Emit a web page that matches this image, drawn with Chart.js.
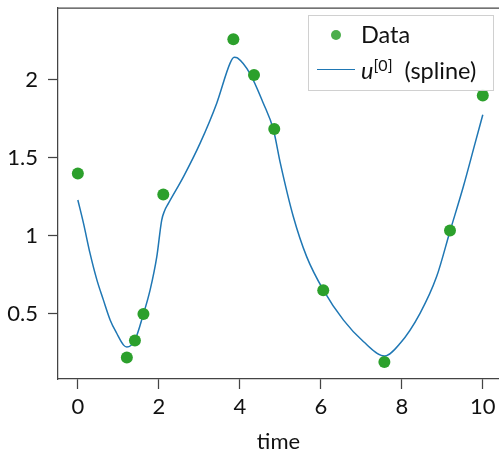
<!DOCTYPE html>
<html>
<head>
<meta charset="utf-8">
<script src="https://cdn.jsdelivr.net/npm/chart.js@4/dist/chart.umd.min.js"></script>
<style>
  body { margin: 0; background: #fff; }
  #wrap { position: relative; width: 499px; height: 450px; font-family: Lato, sans-serif; }
  #legend {
    position: absolute; left: 308px; top: 15px; width: 186px; height: 76px;
    border: 1px solid #d0d0d0; background: rgba(255,255,255,0.85); box-sizing: border-box;
    font-size: 23.5px; color: #111;
  }
  #legend .dot { position: absolute; left: 22px; top: 14px; width: 10px; height: 10px; border-radius: 50%; background: #2ca02c; opacity: 0.85; }
  #legend .ln { position: absolute; left: 8px; top: 53px; width: 38px; height: 0; border-top: 1.5px solid #1f77b4; }
  #legend .t1 { position: absolute; left: 52px; top: 4px; }
  #legend .t2 { position: absolute; left: 52px; top: 40px; white-space: nowrap; }
  #legend sup { font-size: 16px; vertical-align: 8px; line-height: 0; }
</style>
</head>
<body>
<div id="wrap">
  <canvas id="chart" width="499" height="450"></canvas>
  <div id="legend">
    <span class="dot"></span><span class="t1">Data</span>
    <span class="ln"></span><span class="t2"><i>u</i><sup>[0]</sup>&nbsp; (spline)</span>
  </div>
</div>
<script>
const dataT = [0, 1.21, 1.41, 1.62, 2.11, 3.84, 4.35, 4.85, 6.06, 7.57, 9.19, 10.0];
const dataU = [1.40, 0.22, 0.33, 0.50, 1.265, 2.26, 2.03, 1.685, 0.652, 0.192, 1.034, 1.90];

const splineT = [0, 0.14, 0.30, 0.47, 0.63, 0.80, 0.96, 1.13, 1.21, 1.41, 1.62, 1.785, 1.95, 2.07, 2.14, 2.24, 2.61, 3.02, 3.43, 3.76, 3.86, 3.94, 4.25, 4.58, 4.83, 5.0, 5.32, 5.65, 6.06, 6.56, 7.05, 7.57, 7.96, 8.45, 8.86, 9.19, 9.52, 9.81, 10.0];
const splineU = [1.23, 1.08, 0.889, 0.718, 0.59, 0.46, 0.376, 0.30, 0.288, 0.333, 0.50, 0.654, 0.867, 1.10, 1.16, 1.21, 1.38, 1.594, 1.85, 2.107, 2.145, 2.14, 2.04, 1.85, 1.68, 1.466, 1.124, 0.867, 0.654, 0.46, 0.323, 0.23, 0.312, 0.504, 0.739, 1.03, 1.316, 1.594, 1.776];

const xTicks = [0, 2, 4, 6, 8, 10];
const yTicks = [0.5, 1, 1.5, 2];

const axisColor = "#444";
const tickFont = { family: "Lato", size: 22 };

// top spine of the frame
const topSpine = {
  id: "topSpine",
  afterDraw(chart) {
    const { ctx, chartArea } = chart;
    ctx.save();
    ctx.strokeStyle = axisColor;
    ctx.lineWidth = 1.25;
    ctx.beginPath();
    ctx.moveTo(chartArea.left, chartArea.top);
    ctx.lineTo(chartArea.right, chartArea.top);
    ctx.stroke();
    ctx.restore();
  }
};

new Chart(document.getElementById("chart"), {
  type: "scatter",
  data: {
    datasets: [
      {
        label: "Data",
        data: dataT.map((t, i) => ({ x: t, y: dataU[i] })),
        backgroundColor: "#2ca02c",
        borderWidth: 0,
        pointRadius: 6,
        order: 0
      },
      {
        type: "line",
        label: "u[0] (spline)",
        data: splineT.map((t, i) => ({ x: t, y: splineU[i] })),
        borderColor: "#1f77b4",
        borderWidth: 1.5,
        pointRadius: 0,
        fill: false,
        cubicInterpolationMode: "monotone",
        order: 1
      }
    ]
  },
  options: {
    responsive: false,
    animation: false,
    layout: { autoPadding: false, padding: { top: 8, right: 0, left: 0, bottom: 0 } },
    plugins: { legend: { display: false }, tooltip: { enabled: false } },
    scales: {
      x: {
        type: "linear",
        min: -0.49,
        max: 10.4,
        afterBuildTicks: (s) => { s.ticks = xTicks.map(v => ({ value: v })); },
        afterFit: (s) => { s.height = 71; s.paddingLeft = 0; s.paddingRight = 0; },
        grid: { drawOnChartArea: false, tickLength: 10, color: axisColor, tickWidth: 1.25 },
        border: { color: axisColor, width: 1.25 },
        ticks: { color: "#111", font: tickFont, padding: 5, maxRotation: 0 },
        title: { display: true, text: "time", color: "#111", font: { family: "Lato", size: 22, lineHeight: 1 }, padding: { top: 0, bottom: -3 } }
      },
      y: {
        min: 0.083,
        max: 2.46,
        afterBuildTicks: (s) => { s.ticks = yTicks.map(v => ({ value: v })); },
        afterFit: (s) => { s.width = 58; s.paddingTop = 0; s.paddingBottom = 0; },
        grid: { drawOnChartArea: false, tickLength: 10, color: axisColor, tickWidth: 1.25 },
        border: { color: axisColor, width: 1.25 },
        ticks: { color: "#111", font: tickFont, padding: 10, callback: (v) => String(v) }
      }
    }
  },
  plugins: [topSpine]
});
</script>
</body>
</html>
